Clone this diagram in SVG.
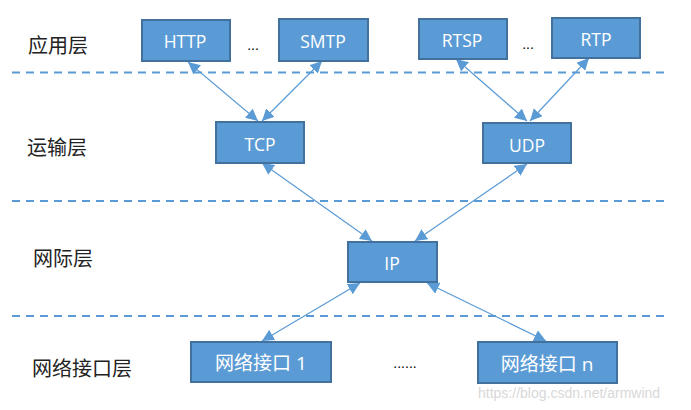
<svg xmlns="http://www.w3.org/2000/svg" width="691" height="410" viewBox="0 0 691 410">
<defs>
<marker id="ah" viewBox="0 0 10 10" refX="10" refY="5" markerWidth="12" markerHeight="12" markerUnits="userSpaceOnUse" orient="auto-start-reverse">
<path d="M0,0 L10,5 L0,10 z" fill="#5B9BD5"/>
</marker>
<style>
.box{fill:#5B9BD5;stroke:#41719C;stroke-width:2}
.bt{fill:#fff;font-family:"Open Sans","Liberation Sans","Noto Sans CJK SC",sans-serif;font-size:17.5px;text-anchor:middle;dominant-baseline:central}
.bc{font-size:19px}
.lay{fill:#222;font-family:"Noto Sans CJK SC",sans-serif;font-size:20px;dominant-baseline:central}
.dash{stroke:#5B9BD5;stroke-width:2;stroke-dasharray:8 6;fill:none}
.con{stroke:#5B9BD5;stroke-width:1.2;fill:none;marker-start:url(#ah);marker-end:url(#ah)}
.dots{fill:#000;font-family:"Liberation Sans",sans-serif;font-size:14px;text-anchor:middle}
</style>
</defs>
<rect width="691" height="410" fill="#fff"/>
<g id="separators">
<line class="dash" x1="12" y1="72.5" x2="664" y2="72.5"/>
<line class="dash" x1="12" y1="201" x2="664" y2="201"/>
<line class="dash" x1="12" y1="316" x2="664" y2="316"/>
</g>
<g id="layers">
<text class="lay" x="28" y="44">应用层</text>
<text class="lay" x="27" y="146">运输层</text>
<text class="lay" x="33" y="257">网际层</text>
<text class="lay" x="32" y="367">网络接口层</text>
</g>
<g id="connectors">
<line class="con" x1="188" y1="62" x2="258" y2="121"/>
<line class="con" x1="322" y1="61" x2="262" y2="121"/>
<line class="con" x1="456" y1="59" x2="527" y2="121"/>
<line class="con" x1="589" y1="58" x2="530" y2="121"/>
<line class="con" x1="262" y1="163" x2="372" y2="241"/>
<line class="con" x1="527" y1="164" x2="415" y2="241"/>
<line class="con" x1="360" y1="283" x2="262" y2="341"/>
<line class="con" x1="427" y1="283" x2="546" y2="341"/>
</g>
<g id="http"><rect class="box" x="142" y="20" width="88" height="41"/><text class="bt" x="185" y="41">HTTP</text></g>
<g id="smtp"><rect class="box" x="279" y="19" width="89" height="42"/><text class="bt" x="323" y="41">SMTP</text></g>
<g id="rtsp"><rect class="box" x="419" y="19" width="88" height="40"/><text class="bt" x="462" y="40">RTSP</text></g>
<g id="rtp"><rect class="box" x="552" y="18" width="88" height="40"/><text class="bt" x="596" y="39">RTP</text></g>
<g id="tcp"><rect class="box" x="216" y="122" width="88" height="41"/><text class="bt" x="260" y="144">TCP</text></g>
<g id="udp"><rect class="box" x="483" y="123" width="88" height="40"/><text class="bt" x="527" y="145">UDP</text></g>
<g id="ip"><rect class="box" x="348" y="242" width="89" height="40"/><text class="bt" x="392" y="263">IP</text></g>
<g id="net1"><rect class="box" x="191" y="342" width="140" height="40"/><text class="bt bc" x="261" y="363">网络接口 1</text></g>
<g id="netn"><rect class="box" x="478" y="342" width="139" height="41"/><text class="bt bc" x="547" y="364">网络接口 n</text></g>
<g id="ellipses">
<text class="dots" x="253" y="50">...</text>
<text class="dots" x="528" y="49">...</text>
<text class="dots" x="405" y="368">......</text>
</g>
<text x="478" y="398" fill="#d8d8d8" font-family="Liberation Sans,sans-serif" font-size="14">https://blog.csdn.net/armwind</text>
</svg>
